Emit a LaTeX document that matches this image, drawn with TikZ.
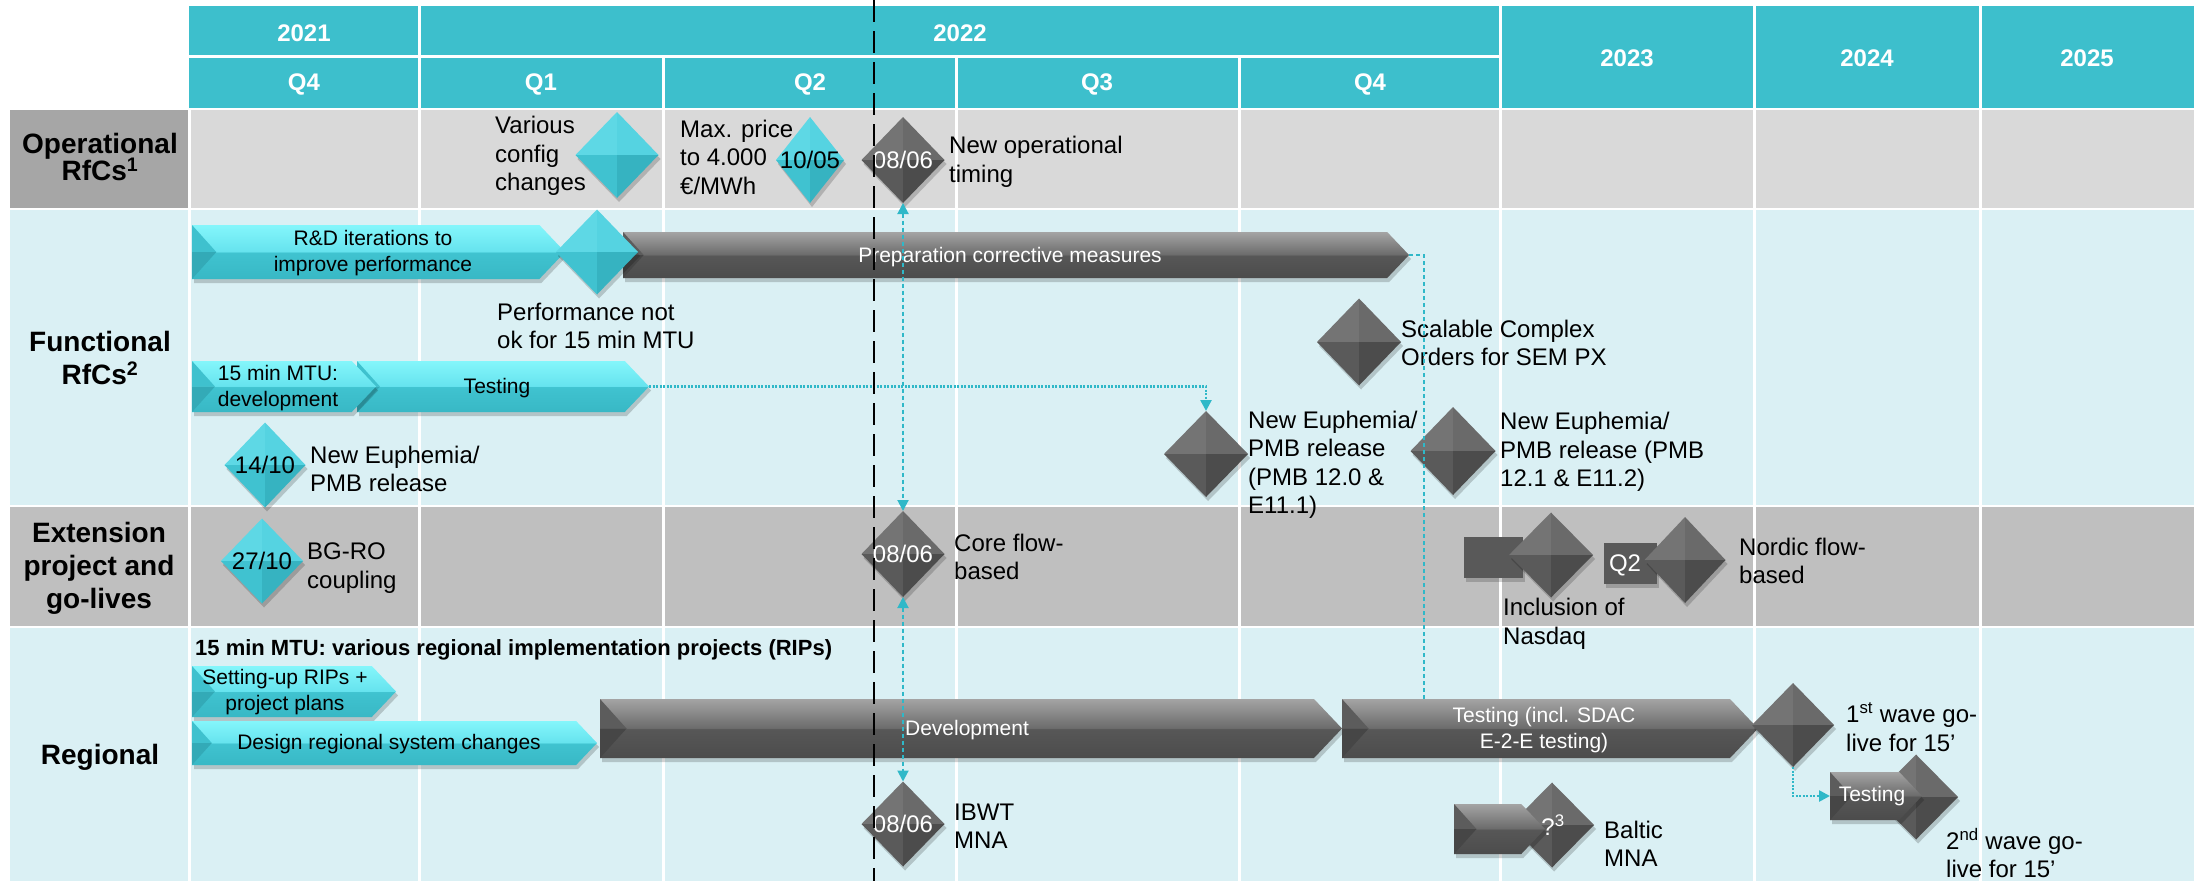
\documentclass[tikz,border=0pt]{standalone}
\usepackage{fontspec}
\setmainfont{Liberation Sans}
\usetikzlibrary{shapes.geometric,arrows.meta,shadows}

\definecolor{hdrc}{HTML}{3DBFCC}
\definecolor{lcyan}{HTML}{DAF0F4}
\definecolor{lgrey}{HTML}{D9D9D9}
\definecolor{mgrey}{HTML}{BFBFBF}
\definecolor{dgrey}{HTML}{A6A6A6}
\definecolor{linkc}{HTML}{2FB8C8}
\definecolor{boxc}{HTML}{595959}
% bar shading colours
\definecolor{cyT}{HTML}{84F6FB}
\definecolor{cyM1}{HTML}{66E3EE}
\definecolor{cyM2}{HTML}{40C3D0}
\definecolor{cyB}{HTML}{38B8C5}
\definecolor{dkT}{HTML}{A4A4A4}
\definecolor{dkM1}{HTML}{6C6C6C}
\definecolor{dkM2}{HTML}{575757}
\definecolor{dkB}{HTML}{4C4C4C}
% bevels
\definecolor{cyVU}{HTML}{3FC1CE}
\definecolor{cyVL}{HTML}{33AAB7}
\definecolor{dkVU}{HTML}{5C5C5C}
\definecolor{dkVL}{HTML}{464646}
% diamond facets
\definecolor{cyTL}{HTML}{5ED8E5}
\definecolor{cyTR}{HTML}{55D3E1}
\definecolor{cyBL}{HTML}{40C2D0}
\definecolor{cyBR}{HTML}{36B3C1}
\definecolor{dkTL}{HTML}{747474}
\definecolor{dkTR}{HTML}{6A6A6A}
\definecolor{dkBL}{HTML}{5A5A5A}
\definecolor{dkBR}{HTML}{4C4C4C}

\pgfdeclareverticalshading{cyshade}{100bp}{color(0bp)=(cyB); color(25bp)=(cyB); color(49.5bp)=(cyM2); color(50.5bp)=(cyM1); color(75bp)=(cyT); color(100bp)=(cyT)}
\pgfdeclareverticalshading{dkshade}{100bp}{color(0bp)=(dkB); color(25bp)=(dkB); color(49.5bp)=(dkM2); color(50.5bp)=(dkM1); color(75bp)=(dkT); color(100bp)=(dkT)}

\newcommand\lblf{\fontsize{24}{28.5}\selectfont}
\newcommand\arrf{\fontsize{21}{25.5}\selectfont}
\newcommand\rowf{\fontsize{28}{33}\selectfont\bfseries}
\newcommand\hdrf{\fontsize{24}{28}\selectfont\bfseries}
\newcommand\ripf{\fontsize{22}{26}\selectfont\bfseries}

\tikzset{
  shad/.style={drop shadow={opacity=0.18, shadow xshift=2pt, shadow yshift=-4pt, fill=black}},
  flatbox/.style={rectangle, inner sep=0pt, outer sep=0pt, draw=none, fill=boxc, shad},
  lbl/.style={anchor=west, align=left, font=\lblf, inner sep=0pt},
  atxt/.style={align=center, font=\arrf, inner sep=0pt},
  dtxt/.style={font=\lblf, inner sep=0pt},
  rowlab/.style={align=center, font=\rowf, inner sep=0pt},
  hdrtxt/.style={text=white, font=\hdrf, inner sep=0pt},
  cnx/.style={draw=linkc, line width=2pt, dash pattern=on 4pt off 3pt},
  cnxdot/.style={draw=linkc, line width=2.5pt, dash pattern=on 2pt off 1.5pt},
}

% faceted diamond: name, x, y, width, height, colour prefix
\newcommand\dmd[6]{%
  \node[diamond, minimum width=#4pt, minimum height=#5pt, inner sep=0pt, outer sep=0pt, draw=none, shad] (#1) at (#2,#3) {};
  \fill[#6TL] (#1.north) -- (#1.center) -- (#1.west) -- cycle;
  \fill[#6TR] (#1.north) -- (#1.east) -- (#1.center) -- cycle;
  \fill[#6BL] (#1.south) -- (#1.west) -- (#1.center) -- cycle;
  \fill[#6BR] (#1.south) -- (#1.center) -- (#1.east) -- cycle;
}
% bevelled bar pointing right: name, x1 (left), x2 (tip), y centre, height, colour prefix
\newcommand\mkbar[6]{%
  \pgfmathsetmacro\bh{#5/2}%
  \pgfmathsetmacro\bp{0.95*#5/2}%
  \pgfmathsetmacro\bv{0.9*#5/2}%
  \path[shade, shading=#6shade, shad] (#2,#4-\bh) -- (#3-\bp,#4-\bh) -- (#3,#4) -- (#3-\bp,#4+\bh) -- (#2,#4+\bh) -- cycle;
  \fill[#6VU] (#2,#4-\bh) -- (#2+\bv,#4) -- (#2,#4) -- cycle;
  \fill[#6VL] (#2,#4) -- (#2+\bv,#4) -- (#2,#4+\bh) -- cycle;
  \node[rectangle, inner sep=0pt, outer sep=0pt, draw=none, minimum width={#3pt-#2pt}, minimum height=#5pt] (#1) at ({(#2+#3)/2},#4) {};
}

\begin{document}
\begin{tikzpicture}[x=1pt,y=-1pt]
\useasboundingbox (0,0) rectangle (2197,881);

% ---------- backgrounds ----------
\fill[hdrc] (189,6) rectangle (2194,108);
\fill[dgrey] (10,110) rectangle (189,208);
\fill[lgrey] (189,110) rectangle (2194,208);
\fill[lcyan] (10,210) rectangle (2194,505);
\fill[mgrey] (10,507) rectangle (2194,626);
\fill[lcyan] (10,628) rectangle (2194,881);

\draw[white,line width=3pt] (189,56.5) -- (1500,56.5);
\foreach \x in {419,1500,1754,1980} \draw[white,line width=3pt] (\x,4) -- (\x,881);
\foreach \x in {663,956,1239} \draw[white,line width=3pt] (\x,56.5) -- (\x,881);
\draw[white,line width=3pt] (189,108) -- (189,881);

% ---------- header ----------
\node[hdrtxt] (h2021) at (304,33) {2021};
\node[hdrtxt] (h2022) at (960,33) {2022};
\node[hdrtxt] (hq4a) at (304,84) {Q4};
\node[hdrtxt] (hq1) at (541,84) {Q1};
\node[hdrtxt] (hq2) at (810,84) {Q2};
\node[hdrtxt] (hq3) at (1097,84) {Q3};
\node[hdrtxt] (hq4b) at (1370,84) {Q4};
\node[hdrtxt] (h2023) at (1627,58) {2023};
\node[hdrtxt] (h2024) at (1867,58) {2024};
\node[hdrtxt] (h2025) at (2087,58) {2025};

% ---------- row labels ----------
\node[rowlab] (lop) at (100,157) {Operational\\[-6pt]RfCs\textsuperscript{1}};
\node[rowlab] (lfn) at (100,358) {Functional\\RfCs\textsuperscript{2}};
\node[rowlab] (lext) at (99,568) {Extension\\project and\\go-lives};
\node[rowlab] (lreg) at (100,757) {Regional};

% ---------- Operational RfCs ----------
\node[lbl] (tvar) at (495,156) {Various\\config\\changes};
\dmd{dvar}{617}{155}{83}{86}{cy}
\node[lbl] (tmax) at (680,157) {Max. price\\to 4.000\\€/MWh};
\dmd{d1005}{810}{160}{68}{86}{cy}
\node[dtxt] (t1005) at (d1005.center) {10/05};
\dmd{dop}{903}{160}{83}{86}{dk}
\node[dtxt,text=white] (top) at (dop.center) {08/06};
\node[lbl] (tnewop) at (949,162) {New operational\\timing};

% ---------- Functional RfCs ----------
\mkbar{ard}{192}{565}{252}{54}{cy}
\mkbar{aprep}{623}{1409}{255}{46}{dk}
\dmd{dperf}{597}{252}{82}{85}{cy}
\node[atxt] (trd) at (373,253) {R\&D iterations to\\improve performance};
\node[atxt,text=white] (tprep) at (1010,257) {Preparation corrective measures};
\node[lbl] (tperf) at (497,326) {Performance not\\ok for 15 min MTU};

\mkbar{atest}{357}{649}{386.5}{51}{cy}
\mkbar{adev15}{192}{376}{386.5}{51}{cy}
\node[atxt, align=left] (tdev15) at (278,388) {15 min MTU:\\development};
\node[atxt] (ttest) at (497,388) {Testing};

\dmd{d1410}{265}{465}{81}{85}{cy}
\node[dtxt] (t1410d) at (d1410.center) {14/10};
\node[lbl] (t1410) at (310,469) {New Euphemia/\\PMB release};

\dmd{dscal}{1359}{342}{84}{87}{dk}
\node[lbl] (tscal) at (1401,343) {Scalable Complex\\Orders for SEM PX};
\dmd{deu1}{1206}{454}{84}{86}{dk}
\node[lbl] (teu1) at (1248,465) {New Euphemia/\\PMB release\\(PMB 12.0 \&\\E11.1)};
\dmd{deu2}{1453}{451}{85}{88}{dk}
\node[lbl] (teu2) at (1500,452) {New Euphemia/\\PMB release (PMB\\12.1 \& E11.2)};

% ---------- Extension project and go-lives ----------
\dmd{d2710}{262}{561}{82}{85}{cy}
\node[dtxt] (t2710d) at (d2710.center) {27/10};
\node[lbl] (t2710) at (307,568) {BG-RO\\coupling};
\dmd{dext}{903}{554}{83}{86}{dk}
\node[dtxt,text=white] (text0806) at (dext.center) {08/06};
\node[lbl] (tcore) at (954,557) {Core flow-\\based};
\node[flatbox, minimum width=59pt, minimum height=41pt] (bnas) at (1493.5,557.5) {};
\dmd{dnas}{1551}{555}{84}{85}{dk}
\node[lbl] (tnas) at (1503,624) {Inclusion of\\Nasdaq};
\node[flatbox, minimum width=53pt, minimum height=41pt] (bq2) at (1630.5,563.5) {};
\dmd{dnor}{1685}{560}{81}{86}{dk}
\node[dtxt, text=white] (tq2) at (1625,565) {Q2};
\node[lbl] (tnor) at (1739,561) {Nordic flow-\\based};

% ---------- Regional ----------
\node[anchor=west, font=\ripf, inner sep=0pt] (trip) at (195,650) {15 min MTU: various regional implementation projects (RIPs)};
\mkbar{asetup}{192}{396}{691.5}{51}{cy}
\node[atxt] (tsetup) at (285,692) {Setting-up RIPs +\\project plans};
\mkbar{adesign}{192}{597}{743}{44}{cy}
\node[atxt] (tdesign) at (389,744) {Design regional system changes};
\mkbar{adevel}{600}{1342}{728.5}{59}{dk}
\node[atxt, text=white] (tdevel) at (967,730) {Development};
\mkbar{asdac}{1342}{1758}{728.5}{59}{dk}
\node[atxt, text=white] (tsdac) at (1544,730) {Testing (incl. SDAC\\E-2-E testing)};

\dmd{dw1}{1793}{725}{82}{84}{dk}
\node[lbl] (tw1) at (1846,727) {1\textsuperscript{st} wave go-\\live for 15’};
\dmd{dw2}{1916}{797}{84}{85}{dk}
\mkbar{btest2}{1830}{1922}{796}{48}{dk}
\node[atxt, text=white] (ttest2) at (1872,796) {Testing};
\node[lbl] (tw2) at (1946,853) {2\textsuperscript{nd} wave go-\\live for 15’};

\dmd{dibwt}{903}{824}{83}{85}{dk}
\node[dtxt,text=white] (tibwtd) at (dibwt.center) {08/06};
\node[lbl] (tibwt) at (954,826) {IBWT\\MNA};

\dmd{dbal}{1552}{825}{84}{85}{dk}
\mkbar{bbal}{1454}{1545}{829}{50}{dk}
\node[dtxt,text=white] (tq3) at (1553,825) {?\textsuperscript{3}};
\node[lbl] (tbal) at (1604,844) {Baltic\\MNA};

% ---------- connectors ----------
\draw[cnx, {Triangle[length=11pt,width=11pt]}-{Triangle[length=11pt,width=11pt]}] (dop.south) -- (dext.north);
\draw[cnx, {Triangle[length=11pt,width=11pt]}-{Triangle[length=11pt,width=11pt]}] (dext.south) -- (dibwt.north);
\draw[cnxdot, -{Triangle[length=11pt,width=11pt]}] (atest.east) -| (deu1.north);
\coordinate (cprep) at (1424,255);
\draw[cnx] (aprep.east) -- (cprep) -- (cprep |- asdac.north);
\draw[cnxdot, -{Triangle[length=11pt,width=11pt]}] (dw1.south) |- (btest2.west);

% ---------- today line ----------
\draw[black, line width=2.5pt, dash pattern=on 22pt off 9pt] (874,0) -- (874,881);
\end{tikzpicture}
\end{document}
